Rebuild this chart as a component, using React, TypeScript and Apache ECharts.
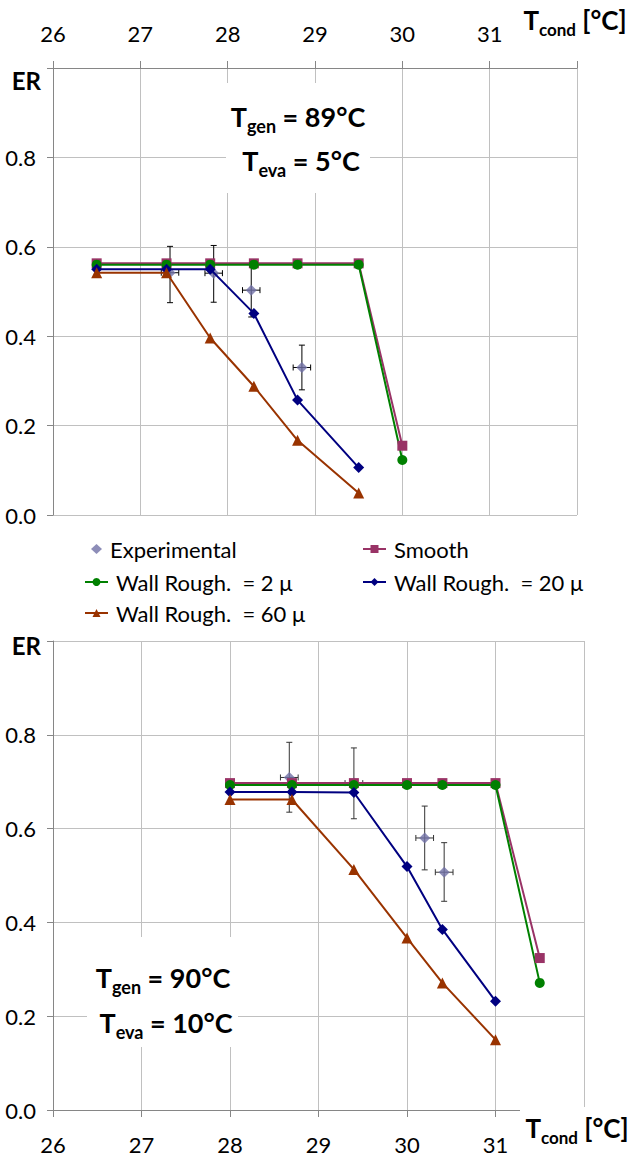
import React, { useEffect, useRef } from "react";
import * as echarts from "echarts";

// ---------- data ----------
const X_TICKS = [26, 27, 28, 29, 30, 31, 32];
const SERIES_NAMES = ["Experimental", "Smooth", "Wall Rough.  = 2 μ", "Wall Rough.  = 20 μ", "Wall Rough.  = 60 μ"];

// Top chart: Tgen = 89°C, Teva = 5°C
const TOP_X = [26.5, 27.3, 27.8, 28.3, 28.8, 29.5, 30];
const TOP_SMOOTH = [0.563, 0.563, 0.563, 0.563, 0.563, 0.563, 0.155];
const TOP_R2 = [0.56, 0.56, 0.56, 0.56, 0.56, 0.56, 0.123];
const TOP_X_R = [26.5, 27.3, 27.8, 28.3, 28.8, 29.5];
const TOP_R20 = [0.55, 0.55, 0.55, 0.451, 0.257, 0.106];
const TOP_R60 = [0.542, 0.542, 0.396, 0.288, 0.167, 0.049];
const TOP_EXP_X = [27.34, 27.84, 28.27, 28.85];
const TOP_EXP_Y = [0.542, 0.541, 0.503, 0.33];
const TOP_EXP_LO = [0.475, 0.476, 0.443, 0.28];
const TOP_EXP_HI = [0.601, 0.603, 0.563, 0.38];
const TOP_EXP_XERR = [0.1, 0.1, 0.1, 0.1];

// Bottom chart: Tgen = 90°C, Teva = 10°C
const BOT_X = [28, 28.7, 29.4, 30, 30.4, 31, 31.5];
const BOT_SMOOTH = [0.697, 0.697, 0.697, 0.697, 0.697, 0.697, 0.324];
const BOT_R2 = [0.693, 0.693, 0.693, 0.693, 0.693, 0.693, 0.271];
const BOT_X_R = [28, 28.7, 29.4, 30, 30.4, 31];
const BOT_R20 = [0.678, 0.678, 0.677, 0.519, 0.385, 0.232];
const BOT_R60 = [0.662, 0.662, 0.513, 0.367, 0.271, 0.15];
const BOT_EXP_X = [28.67, 29.4, 30.2, 30.42];
const BOT_EXP_Y = [0.709, 0.697, 0.58, 0.507];
const BOT_EXP_LO = [0.635, 0.621, 0.512, 0.445];
const BOT_EXP_HI = [0.784, 0.772, 0.648, 0.57];
const BOT_EXP_XERR = [0.1, 0.1, 0.1, 0.1];

// ---------- styles ----------
const FONT = "Lato, 'Noto Sans', sans-serif";
const C_EXP = "#7171a6";
const C_SMOOTH = "#993366";
const C_R2 = "#008000";
const C_R20 = "#000080";
const C_R60 = "#993300";
const GRID_C = "#c0c0c0";
const AXIS_C = "#868686";

const zip = (xs: number[], ys: number[]) => xs.map((x, i) => [x, ys[i]]);
const errRows = (x: number[], y: number[], lo: number[], hi: number[], xe: number[]) =>
  x.map((v, i) => [v, y[i], lo[i], hi[i], xe[i]]);

function makeErrRender(color: string) {
  return (params: any, api: any) => {
    const x = api.value(0), y = api.value(1), lo = api.value(2), hi = api.value(3), xe = api.value(4);
    const pHi = api.coord([x, hi]);
    const pLo = api.coord([x, lo]);
    const pL = api.coord([x - xe, y]);
    const pR = api.coord([x + xe, y]);
    const c = 3;
    const st = { stroke: color, lineWidth: 1 };
    const ln = (x1: number, y1: number, x2: number, y2: number) => ({
      type: "line",
      shape: { x1, y1, x2, y2 },
      style: st,
    });
    return {
      type: "group",
      children: [
        ln(pHi[0], pHi[1], pLo[0], pLo[1]),
        ln(pHi[0] - c, pHi[1], pHi[0] + c, pHi[1]),
        ln(pLo[0] - c, pLo[1], pLo[0] + c, pLo[1]),
        ln(pL[0], pL[1], pR[0], pR[1]),
        ln(pL[0], pL[1] - c, pL[0], pL[1] + c),
        ln(pR[0], pR[1] - c, pR[0], pR[1] + c),
      ],
    };
  };
}

function lineSeries(name: string, data: number[][], color: string, symbol: string, size: number, gi: number) {
  return {
    name,
    type: "line",
    xAxisIndex: gi,
    yAxisIndex: gi,
    data,
    symbol,
    symbolSize: size,
    showSymbol: true,
    lineStyle: { color, width: 2 },
    itemStyle: { color },
    z: 3,
  };
}

function chartSeries(gi: number, d: any) {
  return [
    {
      name: "errbars" + gi,
      type: "custom",
      xAxisIndex: gi,
      yAxisIndex: gi,
      renderItem: makeErrRender(gi === 0 ? "#000" : "#333"),
      data: d.err,
      encode: { x: 0, y: 1 },
      z: 2,
    },
    {
      name: SERIES_NAMES[0],
      type: "scatter",
      xAxisIndex: gi,
      yAxisIndex: gi,
      data: d.exp,
      symbol: "diamond",
      symbolSize: 11,
      itemStyle: { color: C_EXP },
      z: 2,
    },
    lineSeries(SERIES_NAMES[1], d.smooth, C_SMOOTH, "rect", 10, gi),
    lineSeries(SERIES_NAMES[2], d.r2, C_R2, "circle", 10, gi),
    lineSeries(SERIES_NAMES[3], d.r20, C_R20, "diamond", 11, gi),
    lineSeries(SERIES_NAMES[4], d.r60, C_R60, "triangle", 11, gi),
  ];
}

function xAxisCfg(gi: number, pos: string, margin: number) {
  return {
    type: "value",
    gridIndex: gi,
    position: pos,
    min: 26,
    max: 32,
    interval: 1,
    axisLine: { show: true, onZero: false, lineStyle: { color: AXIS_C, width: 1 } },
    axisTick: { show: true, length: 7, lineStyle: { color: AXIS_C } },
    splitLine: { show: true, lineStyle: { color: GRID_C, width: 1 } },
    axisLabel: {
      color: "#000",
      fontSize: 22,
      fontFamily: FONT,
      margin,
      formatter: (v: number) => (v === X_TICKS[X_TICKS.length - 1] ? "" : String(v)),
    },
  };
}

function yAxisCfg(gi: number, erPad: number) {
  return {
    type: "value",
    gridIndex: gi,
    min: 0,
    max: 1,
    interval: 0.2,
    axisLine: { show: true, onZero: false, lineStyle: { color: AXIS_C, width: 1 } },
    axisTick: { show: true, length: 6, lineStyle: { color: AXIS_C } },
    splitLine: { show: true, lineStyle: { color: GRID_C, width: 1 } },
    axisLabel: {
      margin: 12,
      formatter: (v: number) => (v > 0.99 ? "{er|ER}" : "{n|" + v.toFixed(1) + "}"),
      rich: {
        n: { fontSize: 22, color: "#000", fontFamily: FONT, padding: [0, 5, 0, 0] },
        er: { fontSize: 24, fontWeight: "bold", color: "#000", fontFamily: FONT, padding: [erPad, 0, 0, 0] },
      },
    },
  };
}

const RICH_BIG = (fs: number, sfs: number) => ({
  b: { fontSize: fs, fontWeight: "bold", fill: "#000", fontFamily: FONT, verticalAlign: "bottom", padding: [0, 0, 5, 0] },
  s: { fontSize: sfs, fontWeight: "bold", fill: "#000", fontFamily: FONT, verticalAlign: "bottom" },
});

function richText(x: number, y: number, text: string, fs: number, sfs: number) {
  return {
    type: "text",
    x,
    y,
    z: 60,
    style: {
      text,
      align: "center",
      verticalAlign: "bottom",
      fill: "#000",
      font: `bold ${fs}px ${FONT}`,
      rich: RICH_BIG(fs, sfs),
    },
  };
}

function legendCfg(name: string, left: number, top: number, icon?: string, iw = 23) {
  return {
    data: [icon ? { name, icon } : { name }],
    left,
    top,
    itemWidth: iw,
    itemHeight: 10,
    selectedMode: false,
    textStyle: { fontSize: 22, color: "#000", fontFamily: FONT, padding: [0, 0, 0, 3] },
  };
}

export default function App() {
  const ref = useRef<HTMLDivElement>(null);
  useEffect(() => {
    if (!ref.current) return;
    const chart = echarts.init(ref.current, null, { renderer: "svg" });
    const top = {
      err: errRows(TOP_EXP_X, TOP_EXP_Y, TOP_EXP_LO, TOP_EXP_HI, TOP_EXP_XERR),
      exp: zip(TOP_EXP_X, TOP_EXP_Y),
      smooth: zip(TOP_X, TOP_SMOOTH),
      r2: zip(TOP_X, TOP_R2),
      r20: zip(TOP_X_R, TOP_R20),
      r60: zip(TOP_X_R, TOP_R60),
    };
    const bot = {
      err: errRows(BOT_EXP_X, BOT_EXP_Y, BOT_EXP_LO, BOT_EXP_HI, BOT_EXP_XERR),
      exp: zip(BOT_EXP_X, BOT_EXP_Y),
      smooth: zip(BOT_X, BOT_SMOOTH),
      r2: zip(BOT_X, BOT_R2),
      r20: zip(BOT_X_R, BOT_R20),
      r60: zip(BOT_X_R, BOT_R60),
    };
    const option: any = {
      animation: false,
      backgroundColor: "#fff",
      textStyle: { fontFamily: FONT },
      grid: [
        { left: 53, top: 68, width: 524, height: 447 },
        { left: 53, top: 641, width: 531, height: 469 },
      ],
      xAxis: [xAxisCfg(0, "top", 24), xAxisCfg(1, "bottom", 23)],
      yAxis: [yAxisCfg(0, 24), yAxisCfg(1, 8)],
      legend: [
        legendCfg(SERIES_NAMES[0], 86, 533, "diamond", 11),
        legendCfg(SERIES_NAMES[1], 357, 533),
        legendCfg(SERIES_NAMES[2], 79, 566),
        legendCfg(SERIES_NAMES[3], 357, 566),
        legendCfg(SERIES_NAMES[4], 79, 597),
      ],
      graphic: [
        { type: "rect", z: 50, shape: { x: 226, y: 83, width: 144, height: 110 }, style: { fill: "#fff" } },
        richText(298, 135, "{b|T}{s|gen}{b| = 89°C}", 27, 18),
        richText(301, 179, "{b|T}{s|eva}{b| = 5°C}", 27, 18),
        { type: "rect", z: 50, shape: { x: 87, y: 937, width: 151, height: 110 }, style: { fill: "#fff" } },
        richText(163, 996, "{b|T}{s|gen}{b| = 90°C}", 27, 18),
        richText(166, 1041, "{b|T}{s|eva}{b| = 10°C}", 27, 18),
        richText(575, 38, "{b|T}{s|cond}{b| [°C]}", 26, 17),
        { type: "rect", z: 50, shape: { x: 520, y: 1107, width: 118, height: 51 }, style: { fill: "#fff" } },
        richText(577, 1146, "{b|T}{s|cond}{b| [°C]}", 26, 17),
      ],
      series: [...chartSeries(0, top), ...chartSeries(1, bot)],
    };
    chart.setOption(option);
    return () => chart.dispose();
  }, []);
  return (
    <div
      ref={ref}
      style={{ position: "absolute", left: 0, top: 0, width: 638, height: 1158, background: "#fff" }}
    />
  );
}
